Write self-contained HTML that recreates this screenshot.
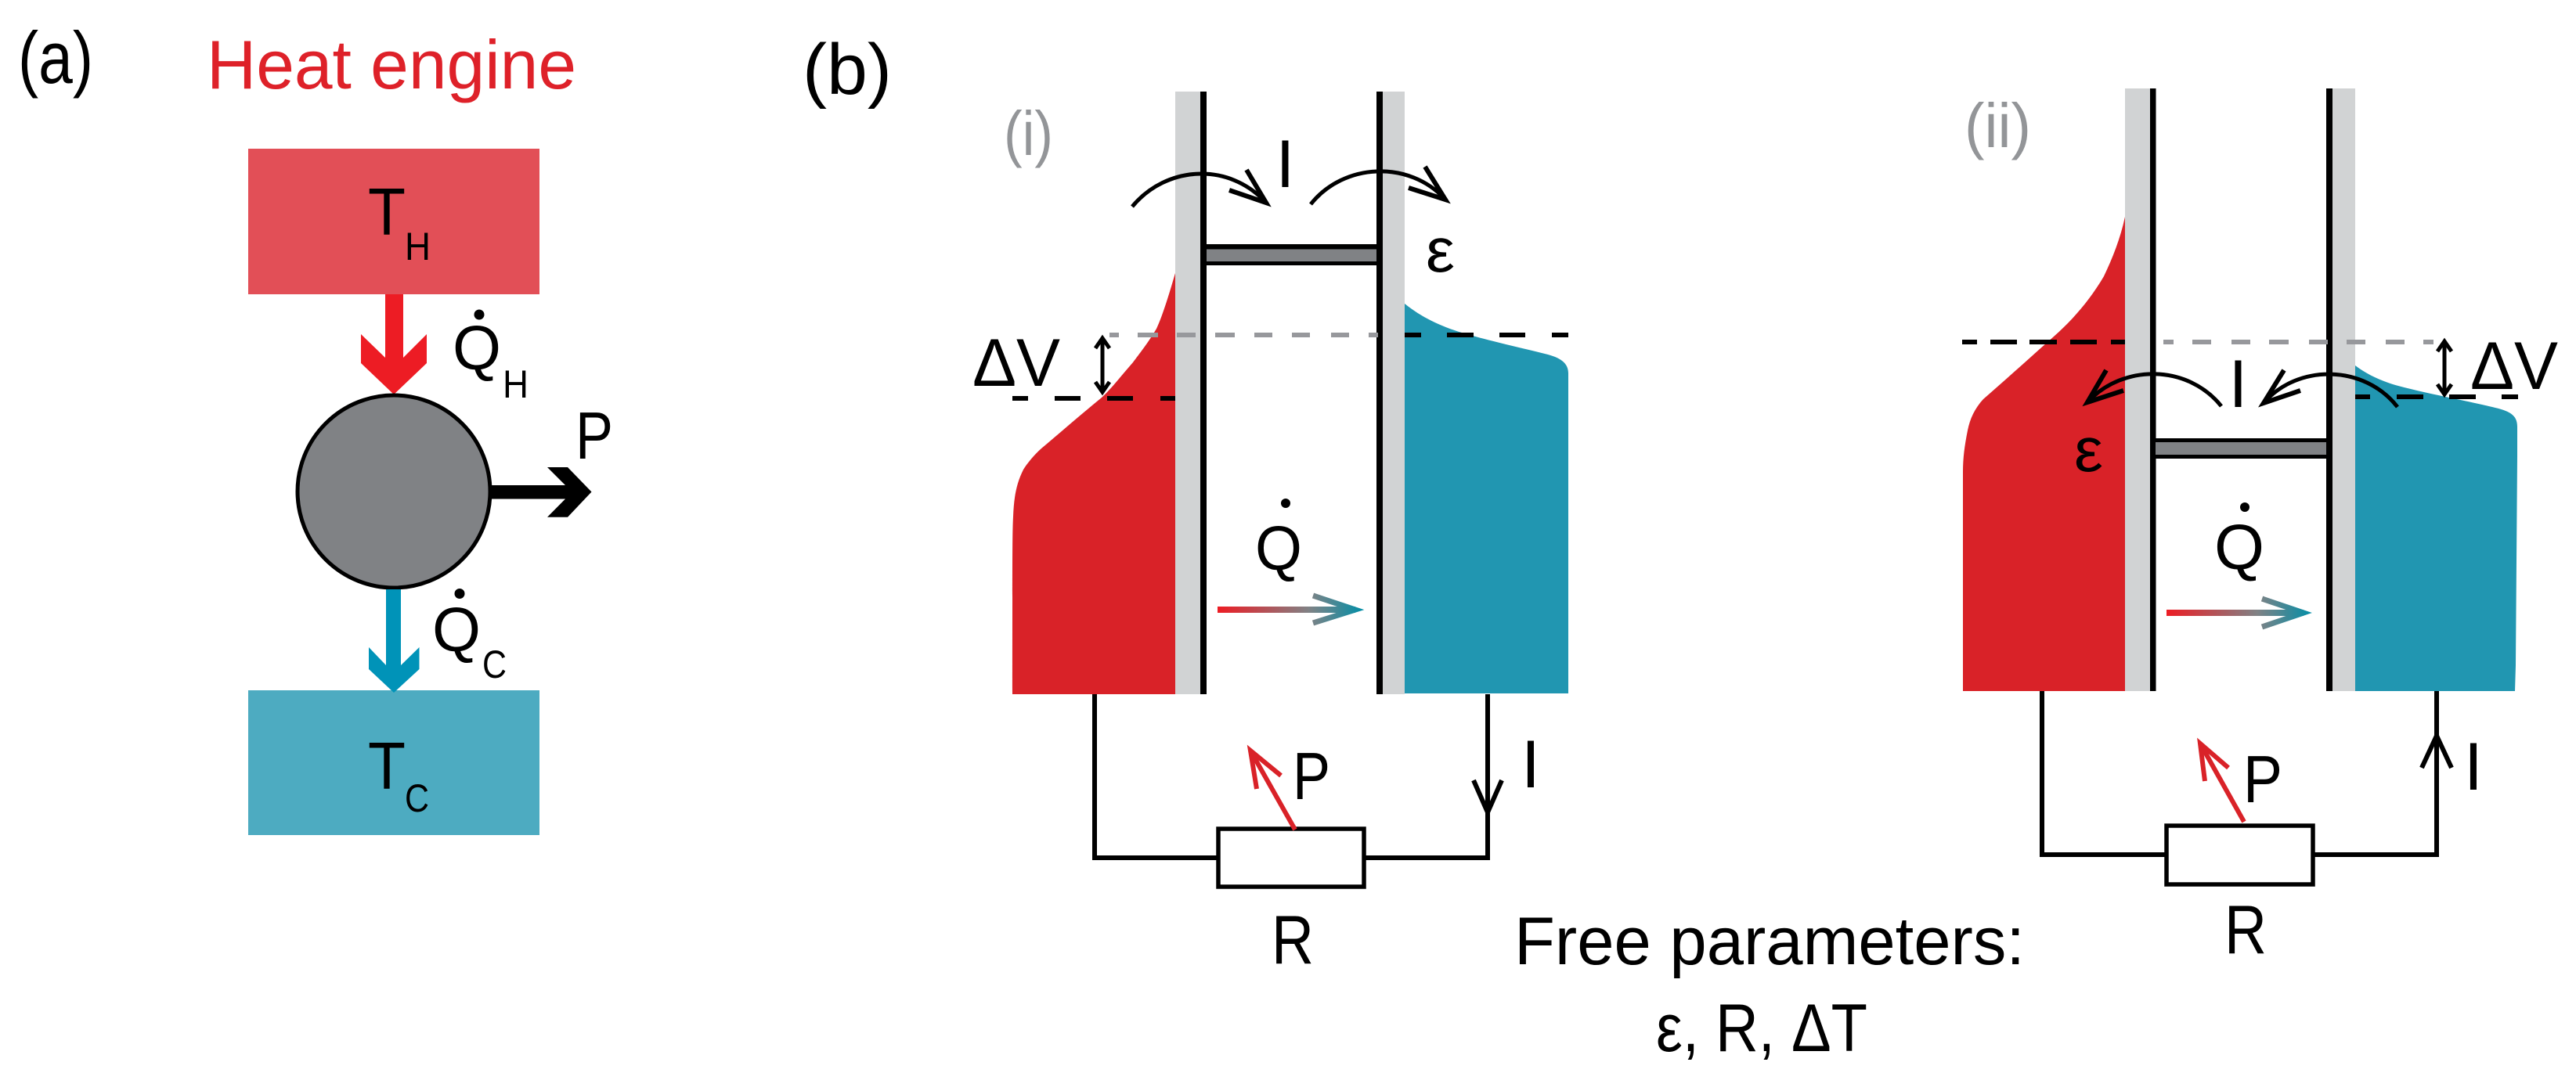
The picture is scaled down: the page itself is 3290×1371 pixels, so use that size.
<!DOCTYPE html>
<html><head><meta charset="utf-8"><style>
html,body{margin:0;padding:0;background:#fff}
svg{display:block}
text{font-family:"Liberation Sans",sans-serif;fill:#000}
</style></head><body>
<svg xmlns="http://www.w3.org/2000/svg" width="3290" height="1371" viewBox="0 0 3290 1371">
<defs>
<linearGradient id="g1" gradientUnits="userSpaceOnUse" x1="1555" y1="0" x2="1743" y2="0"><stop offset="0" stop-color="#ed1c24"/><stop offset=".62" stop-color="#808285"/><stop offset="1" stop-color="#008fa8"/></linearGradient>
<linearGradient id="g2" gradientUnits="userSpaceOnUse" x1="2767" y1="0" x2="2954" y2="0"><stop offset="0" stop-color="#ed1c24"/><stop offset=".62" stop-color="#808285"/><stop offset="1" stop-color="#008fa8"/></linearGradient>
</defs>
<rect width="3290" height="1371" fill="#fff"/>

<!-- panel a -->
<text x="23" y="106" font-size="94" textLength="96" lengthAdjust="spacingAndGlyphs">(a)</text>
<text x="264" y="113" font-size="88" textLength="472" lengthAdjust="spacingAndGlyphs" style="fill:#de2129">Heat engine</text>
<rect x="317" y="190" width="372" height="186" fill="#e24f57"/>
<rect x="317" y="882" width="372" height="185" fill="#4dabc1"/>
<polygon points="492,376 515,376 515,457 545,427 545,464 503,504 461,464 461,427 492,457" fill="#ed1c24"/>
<circle cx="503" cy="628" r="123" fill="#808285" stroke="#000" stroke-width="5"/>
<polygon points="493,753 512,753 512,850 535.5,827 535.5,855 503,885 471,855 471,827 493,850" fill="#0093b8"/>
<polygon points="628,620 722,620 699,597 725,597 755.5,628.5 725,660.7 699,660.7 722,637.5 628,637.5" fill="#000"/>
<text x="470" y="300" font-size="85" textLength="48" lengthAdjust="spacingAndGlyphs">T</text>
<text x="517" y="332" font-size="50" textLength="33" lengthAdjust="spacingAndGlyphs">H</text>
<text x="470" y="1008" font-size="85" textLength="48" lengthAdjust="spacingAndGlyphs">T</text>
<text x="517" y="1037" font-size="50" textLength="31" lengthAdjust="spacingAndGlyphs">C</text>
<text x="578" y="472" font-size="80" textLength="62" lengthAdjust="spacingAndGlyphs">Q</text>
<circle cx="612" cy="402" r="6.5"/>
<text x="642" y="508" font-size="50" textLength="33" lengthAdjust="spacingAndGlyphs">H</text>
<text x="552" y="832" font-size="80" textLength="62" lengthAdjust="spacingAndGlyphs">Q</text>
<circle cx="587" cy="758.5" r="6.5"/>
<text x="616" y="866" font-size="50" textLength="31" lengthAdjust="spacingAndGlyphs">C</text>
<text x="735" y="586" font-size="85" textLength="48" lengthAdjust="spacingAndGlyphs">P</text>

<!-- panel b -->
<text x="1025" y="120" font-size="92" textLength="114" lengthAdjust="spacingAndGlyphs">(b)</text>
<text x="1282" y="198" font-size="80" textLength="63" lengthAdjust="spacingAndGlyphs" style="fill:#939598">(i)</text>
<text x="2509" y="188" font-size="80" textLength="85" lengthAdjust="spacingAndGlyphs" style="fill:#939598">(ii)</text>

<!-- (i) areas -->
<path d="M1501,349 C1492,380 1484,405 1477,420 C1465,440 1455,452 1447,463 C1432,480 1420,496 1407,508 C1380,530 1355,552 1330,573 C1320,582 1312,592 1307,600 C1298,618 1295,635 1294,660 C1293,680 1293,700 1293,887 L1501,887 Z" fill="#d92228"/>
<path d="M1794,388 C1815,405 1840,417 1867,425 C1900,435 1945,445 1977,453 C1995,458 2003,465 2003,477 L2003,886 L1794,886 Z" fill="#2196b1"/>
<rect x="1501" y="117" width="32" height="770" fill="#d1d3d4"/>
<rect x="1533" y="117" width="8" height="770" fill="#000"/>
<rect x="1766" y="117" width="28" height="770" fill="#d1d3d4"/>
<rect x="1758" y="117" width="8" height="770" fill="#000"/>
<rect x="1541" y="312" width="217" height="27" fill="#000"/>
<rect x="1541" y="318.5" width="217" height="15.5" fill="#808285"/>

<!-- (i) dashes -->
<g fill="#97989c">
<rect x="1417" y="425" width="12" height="6"/><rect x="1453" y="425" width="26" height="6"/><rect x="1503" y="425" width="24" height="6"/><rect x="1552" y="425" width="25" height="6"/><rect x="1602" y="425" width="23" height="6"/><rect x="1650" y="425" width="23" height="6"/><rect x="1700" y="425" width="23" height="6"/><rect x="1748" y="425" width="12" height="6"/>
</g>
<g fill="#000">
<rect x="1794" y="425" width="21" height="6"/><rect x="1848" y="425" width="34" height="6"/><rect x="1915" y="425" width="33" height="6"/><rect x="1982" y="425" width="21" height="6"/>
<rect x="1293" y="506" width="20" height="6"/><rect x="1347" y="506" width="33" height="6"/><rect x="1414" y="506" width="33" height="6"/><rect x="1482" y="506" width="19" height="6"/>
</g>
<g fill="none" stroke="#000" stroke-width="5">
<path d="M1408,432V501"/><path d="M1399,445L1408,432L1417,445"/><path d="M1399,488L1408,501L1417,488"/>
<path d="M1446,264 C1490,211 1570,207 1617,259"/>
<path d="M1674,261 C1716,208 1800,204 1846,255"/>
</g>
<g fill="none" stroke="#000" stroke-width="6" stroke-miterlimit="10">
<path d="M1592,217 L1617,259 L1570,243"/>
<path d="M1820,213 L1846,255 L1799,240"/>
</g>
<text x="1242" y="493" font-size="86" textLength="112" lengthAdjust="spacingAndGlyphs">ΔV</text>
<text x="1641.5" y="239" font-size="86" text-anchor="middle">I</text>
<text x="1821" y="347" font-size="80" textLength="37" lengthAdjust="spacingAndGlyphs">ε</text>
<text x="1603" y="728" font-size="80" textLength="60" lengthAdjust="spacingAndGlyphs">Q</text>
<circle cx="1642" cy="643" r="6"/>

<!-- (i) gradient arrow -->
<g fill="none" stroke="url(#g1)">
<path d="M1555,779H1731" stroke-width="8"/>
<path d="M1677,761L1731,779L1677,796" stroke-width="7" stroke-miterlimit="10"/>
</g>

<!-- (i) circuit -->
<path d="M1398,887V1096H1556M1742,1096H1900V887" fill="none" stroke="#000" stroke-width="6"/>
<rect x="1556" y="1059" width="186" height="74" fill="#fff" stroke="#000" stroke-width="5.5"/>
<path d="M1882,997L1900,1038L1918,997" fill="none" stroke="#000" stroke-width="6" stroke-miterlimit="10"/>
<path d="M1654,1060L1597,959" fill="none" stroke="#d92228" stroke-width="6"/>
<path d="M1636,991L1597,959L1605,1008" fill="none" stroke="#d92228" stroke-width="6" stroke-miterlimit="10"/>
<text x="1651" y="1021" font-size="85" textLength="48" lengthAdjust="spacingAndGlyphs">P</text>
<text x="1955" y="1006" font-size="86" text-anchor="middle">I</text>
<text x="1624" y="1231" font-size="88" textLength="54" lengthAdjust="spacingAndGlyphs">R</text>

<!-- free params -->
<text x="1934" y="1232" font-size="86" textLength="652" lengthAdjust="spacingAndGlyphs">Free parameters:</text>
<text x="2115" y="1343" font-size="86" textLength="270" lengthAdjust="spacingAndGlyphs">ε, R, ΔT</text>

<!-- (ii) areas -->
<path d="M2714,277 C2708,305 2698,330 2687,353 C2670,382 2648,408 2623,430 C2595,455 2565,482 2533,510 C2522,522 2516,535 2513,550 C2509,570 2507,585 2507,603 L2507,883 L2714,883 Z" fill="#d92228"/>
<path d="M3008,467 C3025,480 3045,488 3063,493 C3100,503 3150,512 3183,520 C3205,525 3215,530 3215,545 L3215,583 L3213,850 L3212,883 L3008,883 Z" fill="#2196b1"/>
<rect x="2714" y="113" width="32" height="770" fill="#d1d3d4"/>
<rect x="2746" y="113" width="7.5" height="770" fill="#000"/>
<rect x="2979" y="113" width="29" height="770" fill="#d1d3d4"/>
<rect x="2971" y="113" width="8" height="770" fill="#000"/>
<rect x="2753" y="560" width="218" height="26" fill="#000"/>
<rect x="2753" y="565" width="218" height="16" fill="#808285"/>

<!-- (ii) dashes -->
<g fill="#000">
<rect x="2506" y="434" width="19" height="6"/><rect x="2542" y="434" width="34" height="6"/><rect x="2592" y="434" width="35" height="6"/><rect x="2644" y="434" width="34" height="6"/><rect x="2696" y="434" width="18" height="6"/>
<rect x="3008" y="504" width="19" height="6"/><rect x="3061" y="504" width="34" height="6"/><rect x="3128" y="504" width="34" height="6"/><rect x="3195" y="504" width="21" height="6"/>
</g>
<g fill="#97989c">
<rect x="2763" y="434" width="13" height="6"/><rect x="2800" y="434" width="24" height="6"/><rect x="2850" y="434" width="24" height="6"/><rect x="2898" y="434" width="25" height="6"/><rect x="2949" y="434" width="24" height="6"/><rect x="2997" y="434" width="24" height="6"/><rect x="3047" y="434" width="24" height="6"/><rect x="3095" y="434" width="13" height="6"/>
</g>
<g fill="none" stroke="#000" stroke-width="5">
<path d="M3122,436V504"/><path d="M3113,449L3122,436L3131,449"/><path d="M3113,491L3122,504L3131,491"/>
<path d="M2837,519 C2795,466 2712,464 2666,514"/>
<path d="M3062,520 C3020,466 2935,464 2891,515"/>
</g>
<g fill="none" stroke="#000" stroke-width="6" stroke-miterlimit="10">
<path d="M2690,473L2666,514L2712,499"/>
<path d="M2917,473L2891,515L2938,499"/>
</g>
<text x="3155" y="497" font-size="86" textLength="112" lengthAdjust="spacingAndGlyphs">ΔV</text>
<text x="2858.5" y="520" font-size="86" text-anchor="middle">I</text>
<text x="2649" y="602" font-size="80" textLength="37" lengthAdjust="spacingAndGlyphs">ε</text>
<text x="2828" y="727" font-size="82" textLength="64" lengthAdjust="spacingAndGlyphs">Q</text>
<circle cx="2867" cy="648" r="6"/>

<!-- (ii) gradient arrow -->
<g fill="none" stroke="url(#g2)">
<path d="M2767,783H2942" stroke-width="8"/>
<path d="M2889,765L2942,783L2889,801" stroke-width="7" stroke-miterlimit="10"/>
</g>

<!-- (ii) circuit -->
<path d="M2608,883V1092H2767M2954,1092H3112V883" fill="none" stroke="#000" stroke-width="6"/>
<rect x="2767" y="1055" width="187" height="75" fill="#fff" stroke="#000" stroke-width="5.5"/>
<path d="M3093,981L3112,940L3131,981" fill="none" stroke="#000" stroke-width="6" stroke-miterlimit="10"/>
<path d="M2866,1050L2810,950" fill="none" stroke="#d92228" stroke-width="6"/>
<path d="M2846,981L2810,950L2816,998" fill="none" stroke="#d92228" stroke-width="6" stroke-miterlimit="10"/>
<text x="2865" y="1025" font-size="85" textLength="50" lengthAdjust="spacingAndGlyphs">P</text>
<text x="3159" y="1009" font-size="86" text-anchor="middle">I</text>
<text x="2841" y="1218" font-size="88" textLength="54" lengthAdjust="spacingAndGlyphs">R</text>
</svg>
</body></html>
